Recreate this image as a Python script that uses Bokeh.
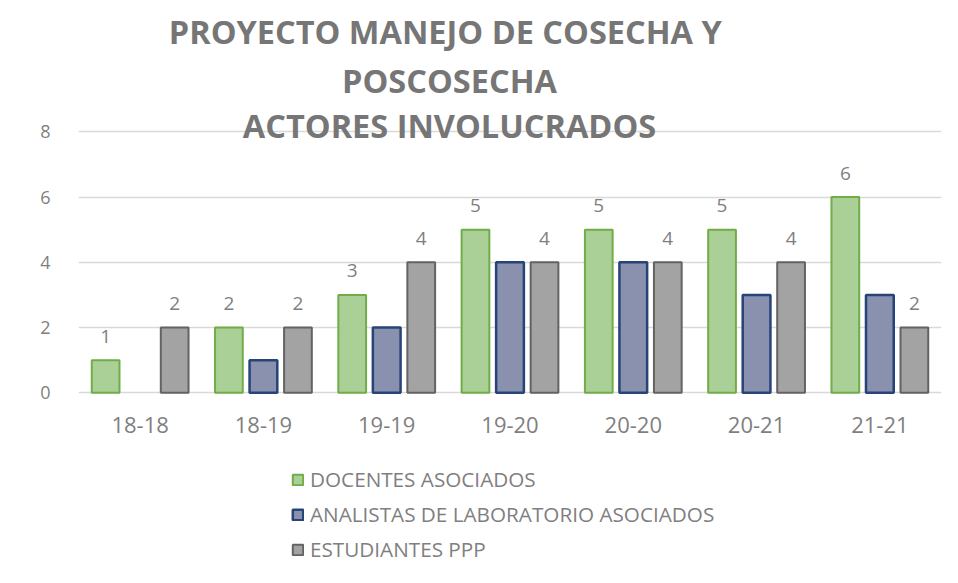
from bokeh.plotting import figure
from bokeh.layouts import column
from bokeh.models import (ColumnDataSource, FactorRange, Range1d, FixedTicker,
                          Legend, LegendItem, LabelSet, Label)
from bokeh.transform import dodge
from bokeh.core.properties import value
from bokeh.embed import file_html
from bokeh.resources import INLINE

# ---- data ----
categories = ["18-18", "18-19", "19-19", "19-20", "20-20", "20-21", "21-21"]
docentes = [1, 2, 3, 5, 5, 5, 6]
analistas = [0, 1, 2, 4, 4, 3, 3]
estudiantes = [2, 2, 4, 4, 4, 4, 2]
series_names = ["DOCENTES ASOCIADOS",
                "ANALISTAS DE LABORATORIO ASOCIADOS",
                "ESTUDIANTES PPP"]
y_ticks = [0, 2, 4, 6, 8]
title_lines = ["PROYECTO  MANEJO DE COSECHA Y", "POSCOSECHA", "ACTORES INVOLUCRADOS"]

src = ColumnDataSource(dict(
    cat=categories,
    doc=docentes,
    ana=analistas,
    est=estudiantes,
    ana_alpha=[1.0 if v > 0 else 0.0 for v in analistas],
    doc_lbl=[str(v) for v in docentes],
    est_lbl=[str(v) for v in estudiantes],
))

FONT = "Open Sans"
TXT = "#7f7f7f"
base_styles = [dict(fill_color="#aacf97", line_color="#70ad47", line_width=2),
               dict(fill_color="#8991ae", line_color="#264478", line_width=2.5),
               dict(fill_color="#a3a3a3", line_color="#636363", line_width=2)]
cols = ["doc", "ana", "est"]
off = 0.28
bw = 0.225
offsets = [-off, 0.0, off]

# main chart: frame reaches the canvas top so the title can overlap the top grid line
p = figure(x_range=FactorRange(factors=categories, range_padding=0),
           y_range=Range1d(-0.05, 12.02),
           width=950, height=450, output_backend="svg", toolbar_location=None,
           min_border_left=78, min_border_right=9,
           min_border_top=0, min_border_bottom=56)
p.outline_line_color = None

for xo, c, st in zip(offsets, cols, base_styles):
    extra = dict(line_alpha="ana_alpha", fill_alpha="ana_alpha") if c == "ana" else {}
    p.vbar(x=dodge("cat", xo, range=p.x_range), top=c, width=bw, source=src,
           **st, **extra)

for xo, col, lbl in [(-off, "doc", "doc_lbl"), (off, "est", "est_lbl")]:
    p.add_layout(LabelSet(x=dodge("cat", xo, range=p.x_range), y=col, text=lbl,
                          source=src, y_offset=24, text_align="center",
                          text_baseline="middle", text_font=value(FONT),
                          text_font_size=value("19px"), text_color=TXT))

p.yaxis.ticker = FixedTicker(ticks=y_ticks)
for ax in (p.xaxis[0], p.yaxis[0]):
    ax.axis_line_color = None
    ax.major_tick_line_color = None
    ax.minor_tick_line_color = None
    ax.major_label_text_font = FONT
    ax.major_label_text_color = TXT
p.yaxis.major_label_text_font_size = "18px"
p.yaxis.major_label_standoff = 22
p.xaxis.major_label_text_font_size = "22px"
p.xaxis.major_label_standoff = 16
p.xgrid.grid_line_color = None
p.ygrid.grid_line_color = "#d9d9d9"
p.ygrid.grid_line_width = 1.5

for txt, ys in zip(title_lines, [363, 314, 269.5]):
    p.add_layout(Label(x=371, y=ys, x_units="screen", y_units="screen", text=txt,
                       text_align="center", text_baseline="middle",
                       text_font=FONT, text_font_style="bold",
                       text_font_size="32.5px", text_color="#767676"))

# legend strip below: hidden proxy renderers, legend drawn without inactive overlay
pl = figure(x_range=p.x_range, y_range=Range1d(0, 10),
            width=950, height=125, output_backend="svg", toolbar_location=None,
            x_axis_location=None, y_axis_location=None, min_border=0)
pl.outline_line_color = None
for g in pl.grid:
    g.visible = False
lr = []
for xo, c, st in zip(offsets, cols, base_styles):
    r = pl.vbar(x=dodge("cat", xo, range=p.x_range), top=c, width=bw, source=src, **st)
    r.visible = False
    lr.append(r)

legend = Legend(items=[LegendItem(label=series_names[i], renderers=[lr[i]]) for i in range(3)],
                location=(213, 12), orientation="vertical",
                glyph_width=13, glyph_height=13, label_height=27, spacing=7,
                padding=0, margin=0, border_line_color=None,
                background_fill_alpha=0, label_text_font=FONT,
                label_text_font_size="20.7px", label_text_color=TXT,
                label_standoff=6, inactive_fill_alpha=0)
pl.add_layout(legend)

layout = column(p, pl, spacing=0)
open("out.html", "w").write(file_html(layout, INLINE))
